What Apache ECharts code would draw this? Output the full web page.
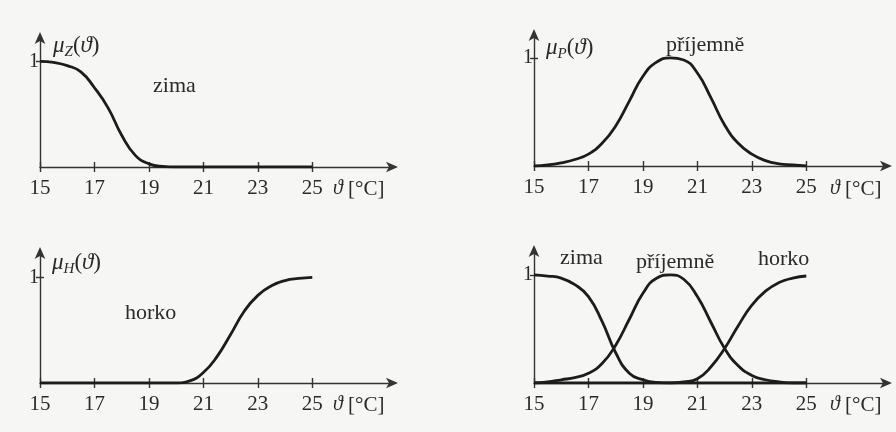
<!DOCTYPE html>
<html>
<head>
<meta charset="utf-8">
<script src="https://cdn.jsdelivr.net/npm/echarts@6/dist/echarts.min.js"></script>
<style>
html,body{margin:0;padding:0;background:#f6f6f4;}
#c{width:896px;height:432px;}
</style>
</head>
<body>
<div id="c"></div>
<script>
// temperatures (°C) at which the curves were read
var temps = [15, 15.5, 16, 16.5, 17, 17.5, 18, 18.5, 19, 19.5, 20, 20.5, 21, 21.5, 22, 22.5, 23, 23.5, 24, 24.5, 25];
var tickValues = [15, 17, 19, 21, 23, 25];
var yTickValues = [1];

// panel 1: zima
var zimaA = [1, 0.99, 0.96, 0.90, 0.75, 0.56, 0.30, 0.11, 0.03, 0.005, 0, 0, 0, 0, 0, 0, 0, 0, 0, 0, 0];
// panel 2: příjemně
var prijemneA = [0, 0.01, 0.03, 0.06, 0.11, 0.21, 0.37, 0.60, 0.83, 0.96, 1.0, 0.98, 0.86, 0.63, 0.38, 0.21, 0.11, 0.05, 0.02, 0.01, 0];
// panel 3: horko
var horkoA = [0, 0, 0, 0, 0, 0, 0, 0, 0, 0, 0, 0.02, 0.10, 0.25, 0.46, 0.68, 0.83, 0.92, 0.97, 0.99, 1.0];
// panel 4: all three
var zimaB = [1, 0.99, 0.97, 0.91, 0.80, 0.57, 0.28, 0.09, 0.03, 0.005, 0, 0, 0, 0, 0, 0, 0, 0, 0, 0, 0];
var prijemneB = [0, 0.01, 0.03, 0.05, 0.09, 0.18, 0.35, 0.59, 0.83, 0.97, 1.0, 0.96, 0.80, 0.56, 0.32, 0.16, 0.07, 0.03, 0.01, 0, 0];
var horkoB = [0, 0, 0, 0, 0, 0, 0, 0, 0, 0, 0, 0.01, 0.04, 0.15, 0.32, 0.53, 0.72, 0.85, 0.93, 0.97, 0.99];

var TXT = '#2a2a2a', LINE = '#1c1c1c', AX = '#333';
var FONT = '"Liberation Serif","DejaVu Serif",serif';

var panels = [
  {left: 40,  top: 36,  height: 131, ymax: 1.24, series: [zimaA]},
  {left: 534, top: 33,  height: 133, ymax: 1.23, series: [prijemneA]},
  {left: 40,  top: 251, height: 132, ymax: 1.25, series: [horkoA]},
  {left: 534, top: 249, height: 134, ymax: 1.24, series: [zimaB, prijemneB, horkoB]}
];

var grids = [], xAxes = [], yAxes = [], series = [];
panels.forEach(function (p, i) {
  grids.push({left: p.left, top: p.top, width: 354, height: p.height, outerBoundsMode: 'none', containLabel: false});
  xAxes.push({
    type: 'value', gridIndex: i, min: 15, max: 28,
    axisLine: {show: true, lineStyle: {color: AX, width: 1.4}, symbol: ['none', 'arrow'], symbolSize: [8, 12], symbolOffset: [0, 4]},
    axisTick: {show: true, customValues: tickValues, length: 5, lineStyle: {color: AX, width: 1.4}},
    axisLabel: {show: true, customValues: tickValues, margin: 11, color: TXT, fontFamily: FONT, fontSize: 21},
    splitLine: {show: false}
  });
  xAxes.push({
    type: 'value', gridIndex: i, min: 15, max: 28, position: 'bottom',
    axisLine: {show: false},
    axisTick: {show: true, inside: true, customValues: tickValues, length: 5, lineStyle: {color: AX, width: 1.4}},
    axisLabel: {show: false}, splitLine: {show: false}
  });
  yAxes.push({
    type: 'value', gridIndex: i, min: 0, max: p.ymax,
    axisLine: {show: true, lineStyle: {color: AX, width: 1.4}, symbol: ['none', 'arrow'], symbolSize: [8, 12], symbolOffset: [0, 4]},
    axisTick: {show: true, customValues: yTickValues, length: 4, lineStyle: {color: AX, width: 1.4}},
    axisLabel: {show: true, customValues: yTickValues, margin: 1, color: TXT, fontFamily: FONT, fontSize: 20},
    splitLine: {show: false}
  });
  yAxes.push({
    type: 'value', gridIndex: i, min: 0, max: p.ymax, position: 'left',
    axisLine: {show: false},
    axisTick: {show: true, inside: true, customValues: yTickValues, length: 4, lineStyle: {color: AX, width: 1.4}},
    axisLabel: {show: false}, splitLine: {show: false}
  });
  p.series.forEach(function (vals) {
    series.push({
      type: 'line', xAxisIndex: i * 2, yAxisIndex: i * 2,
      data: temps.map(function (t, k) { return [t, vals[k]]; }),
      smooth: 0.5, showSymbol: false, silent: true,
      lineStyle: {color: LINE, width: 2.8}, z: 3
    });
  });
});

var rich = {
  i: {fontFamily: FONT, fontStyle: 'italic', fontSize: 23, fill: TXT, color: TXT, lineHeight: 28, verticalAlign: 'middle'},
  n: {fontFamily: FONT, fontSize: 23, fill: TXT, color: TXT, lineHeight: 28, verticalAlign: 'middle'},
  s: {fontFamily: FONT, fontStyle: 'italic', fontSize: 15, fill: TXT, color: TXT, lineHeight: 28, verticalAlign: 'bottom'},
  si: {fontFamily: FONT, fontStyle: 'italic', fontSize: 20, fill: TXT, color: TXT, lineHeight: 24, verticalAlign: 'middle'},
  sn: {fontFamily: FONT, fontSize: 21, fill: TXT, color: TXT, lineHeight: 24, verticalAlign: 'middle'}
};
function txt(x, y, text, size) {
  return {type: 'text', x: x, y: y, z: 10, silent: true,
    style: {text: text, fill: TXT, font: (size || 21) + 'px ' + FONT, textVerticalAlign: 'middle', textAlign: 'left', rich: rich}};
}
var graphics = [
  txt(53, 46, '{i|μ}{s|Z}{n|(}{i|ϑ}{n|)}'),
  txt(546, 48, '{i|μ}{s|P}{n|(}{i|ϑ}{n|)}'),
  txt(52, 263, '{i|μ}{s|H}{n|(}{i|ϑ}{n|)}'),
  txt(153, 86, 'zima', 22),
  txt(666, 45, 'příjemně', 22),
  txt(125, 313, 'horko', 22),
  txt(560, 258, 'zima', 22),
  txt(636, 262, 'příjemně', 22),
  txt(758, 259, 'horko', 22),
  txt(333, 189, '{si|ϑ}{sn| [°C]}'),
  txt(830, 189, '{si|ϑ}{sn| [°C]}'),
  txt(333, 405, '{si|ϑ}{sn| [°C]}'),
  txt(830, 405, '{si|ϑ}{sn| [°C]}')
];

var chart = echarts.init(document.getElementById('c'), null, {renderer: 'canvas'});
chart.setOption({
  backgroundColor: '#f6f6f4',
  animation: false,
  grid: grids, xAxis: xAxes, yAxis: yAxes, series: series,
  graphic: graphics
});
</script>
</body>
</html>
